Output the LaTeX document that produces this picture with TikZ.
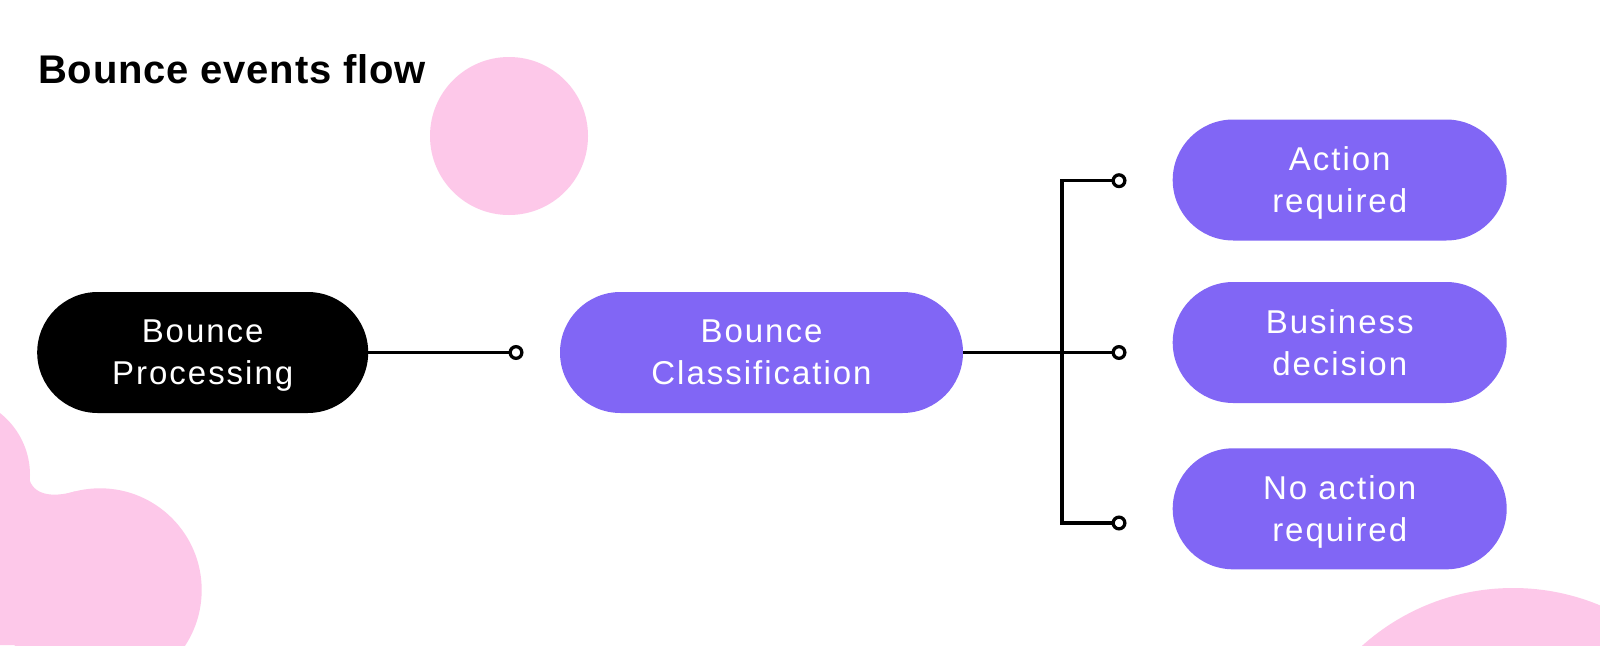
\documentclass[tikz,border=0pt]{standalone}
\usepackage{fontspec}
\setmainfont{Liberation Sans}
\newfontfamily\nodefont[LetterSpace=6]{Liberation Sans}
\newfontfamily\titlefont[LetterSpace=2]{Liberation Sans Bold}
\usetikzlibrary{shapes.misc}
\definecolor{pinkb}{RGB}{253,200,233}
\definecolor{purp}{RGB}{129,102,245}
\begin{document}
\begin{tikzpicture}[x=1pt,y=-1pt,
  pill/.style={rounded rectangle, inner sep=0pt, text=white, align=center,
    text depth=-5pt, font=\nodefont\fontsize{33}{42}\selectfont},
  bpill/.style={pill, fill=black, minimum width=331pt, minimum height=121pt},
  cpill/.style={pill, fill=purp, minimum width=403pt, minimum height=121pt},
  rpill/.style={pill, fill=purp, minimum width=334pt, minimum height=121pt},
  term/.style={circle, draw=black, fill=white, line width=3.3pt, minimum size=11.7pt, inner sep=0pt},
  conn/.style={draw=black, line width=3.5pt},
  blob/.style={fill=pinkb}]
\useasboundingbox (0,0) rectangle (1600,645);
\fill[white] (0,0) rectangle (1600,645);
\begin{scope}
  \clip (0,0) rectangle (1600,645);
  \fill[blob] (509,136) circle[radius=79];
  \fill[blob] (-49,475) circle[radius=79];
  \fill[blob] (100,590) circle[radius=101.7];
  \fill[blob] (29,478) .. controls (33,495) and (52,498) .. (75,491.4) -- (100,645) -- (0,645) -- (0,478) -- cycle;
  \fill[blob] (1513,814) circle[radius=226];
\end{scope}
\node[anchor=base west, inner sep=0pt, font=\titlefont\fontsize{40}{48}\selectfont] (title) at (38,83) {Bounce events flow};
\node[bpill] (bp) at (202.7,352.5) {Bounce\\Processing};
\node[cpill] (bc) at (761.5,352.5) {Bounce\\Classification};
\node[rpill] (ar) at (1339.7,180) {Action\\required};
\node[rpill] (bd) at (1339.7,342.5) {Business\\decision};
\node[rpill] (na) at (1339.7,508.8) {No action\\required};
\node[term] (t1) at (516,352.5) {};
\node[term] (t2) at (1119,180.7) {};
\node[term] (t3) at (1119,352.5) {};
\node[term] (t4) at (1119,523) {};
\coordinate (j) at (1062,352.5);
\draw[conn] (bp.east) -- (t1.west);
\draw[conn] (bc.east) -- (t3.west);
\draw[conn] (t2.west) -| (j) |- (t4.west);
\end{tikzpicture}
\end{document}
